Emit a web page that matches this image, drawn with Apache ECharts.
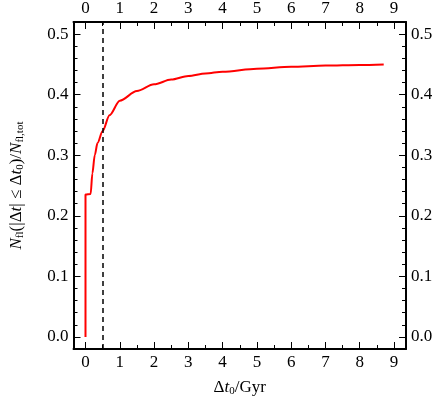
<!DOCTYPE html>
<html>
<head>
<meta charset="utf-8">
<script src="https://cdn.jsdelivr.net/npm/echarts@6/dist/echarts.min.js"></script>
<style>html,body{margin:0;padding:0;background:#fff}#c{width:436px;height:402px}</style>
</head>
<body>
<div id="c"></div>
<script>
var dtValues = [0, 0, 0.15, 0.2, 0.27, 0.35, 0.5, 0.7, 1, 1.5, 2, 2.5, 3, 3.5, 4, 5, 6, 7, 8, 8.7];
var fracValues = [0, 0.235, 0.236, 0.27, 0.3, 0.32, 0.34, 0.366, 0.39, 0.406, 0.417, 0.425, 0.431, 0.435, 0.438, 0.443, 0.446, 0.448, 0.449, 0.45];
var xTicks = [0, 1, 2, 3, 4, 5, 6, 7, 8, 9];
var yTicks = [0, 0.1, 0.2, 0.3, 0.4, 0.5];
var cutoff = 0.5;

var xMinor = [], yMinor = [];
for (var i = 0; i <= 18; i++) xMinor.push(i * 0.5);
for (var j = 0; j <= 26; j++) yMinor.push(Math.round(j * 0.02 * 100) / 100);

var font = 'Liberation Serif';
var chart = echarts.init(document.getElementById('c'));

function xAx(pos, vals, len, labels, extra) {
  return Object.assign({
    type: 'value', position: pos, min: -0.35, max: 9.35, splitLine: {show: false},
    axisLine: {show: labels, onZero: false, lineStyle: {color: '#000', width: 2}},
    axisTick: {show: true, inside: true, length: len, customValues: vals, lineStyle: {color: '#000'}},
    axisLabel: {show: labels, customValues: xTicks, color: '#000', fontFamily: font, fontSize: 17, margin: 5}
  }, extra || {});
}
function yAx(pos, vals, len, labels, extra) {
  return Object.assign({
    type: 'value', position: pos, min: -0.02, max: 0.52, splitLine: {show: false},
    axisLine: {show: labels, onZero: false, lineStyle: {color: '#000', width: 2}},
    axisTick: {show: true, inside: true, length: len, customValues: vals, lineStyle: {color: '#000'}},
    axisLabel: {show: labels, customValues: yTicks, color: '#000', fontFamily: font, fontSize: 17, margin: 5,
      formatter: function (v) { return v.toFixed(1); }}
  }, extra || {});
}

chart.setOption({
  animation: false,
  backgroundColor: '#fff',
  grid: {left: 68, right: 30, top: 22, bottom: 43},
  xAxis: [
    xAx('bottom', xTicks, 7, true, {
      name: '{a|Δ}{i|t}{s|0}{a|/Gyr}', nameLocation: 'middle', nameGap: 30,
      nameTextStyle: {rich: {
        a: {fontFamily: font, fontSize: 17, color: '#000'},
        i: {fontFamily: font, fontSize: 17, fontStyle: 'italic', color: '#000'},
        s: {fontFamily: font, fontSize: 11, color: '#000', padding: [7, 0, 0, 0]}
      }}
    }),
    xAx('bottom', xMinor, 4, false),
    xAx('top', xTicks, 7, true),
    xAx('top', xMinor, 4, false)
  ],
  yAxis: [
    yAx('left', yTicks, 7, true, {
      name: '{i|N}{s|fl}{a|(|Δ}{i|t}{a|| ≤ Δ}{i|t}{s|0}{a|)/}{i|N}{s|fl,tot}', nameLocation: 'middle', nameGap: 48,
      nameTextStyle: {rich: {
        a: {fontFamily: font, fontSize: 17, color: '#000'},
        i: {fontFamily: font, fontSize: 17, fontStyle: 'italic', color: '#000'},
        s: {fontFamily: font, fontSize: 11, color: '#000', padding: [7, 0, 0, 0]}
      }}
    }),
    yAx('left', yMinor, 4, false),
    yAx('right', yTicks, 7, true),
    yAx('right', yMinor, 4, false)
  ],
  series: [{
    type: 'line', showSymbol: false, smooth: 0.3, smoothMonotone: 'x',
    data: dtValues.map(function (x, k) { return [x, fracValues[k]]; }),
    lineStyle: {color: '#ff0000', width: 2},
    markLine: {
      silent: true, symbol: 'none', label: {show: false},
      lineStyle: {color: '#000', type: [5, 4], width: 1.5},
      data: [{xAxis: cutoff}]
    }
  }]
});
</script>
</body>
</html>
